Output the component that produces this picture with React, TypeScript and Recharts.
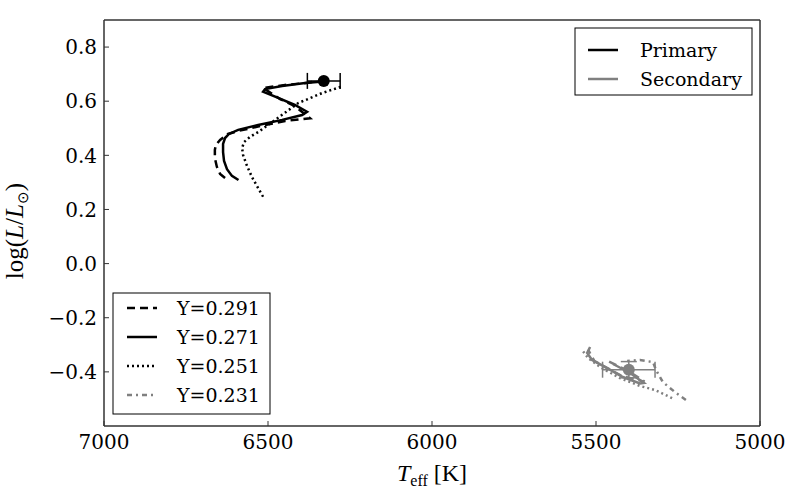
import React from "react";
import { ScatterChart, Scatter, XAxis, YAxis, ErrorBar } from "recharts";

// axis ticks
const xTicks = [7000, 6500, 6000, 5500, 5000];
const yTicks = [-0.4, -0.2, 0.0, 0.2, 0.4, 0.6, 0.8];

// primary star tracks (Teff, log L)
const priY291 = [
  { T: 6631, L: 0.316 }, { T: 6646, L: 0.331 }, { T: 6656, L: 0.358 }, { T: 6662, L: 0.39 },
  { T: 6662, L: 0.42 }, { T: 6659, L: 0.438 }, { T: 6646, L: 0.457 }, { T: 6622, L: 0.479 },
  { T: 6591, L: 0.49 }, { T: 6524, L: 0.508 }, { T: 6448, L: 0.527 }, { T: 6372, L: 0.537 },
  { T: 6418, L: 0.582 }, { T: 6463, L: 0.608 }, { T: 6515, L: 0.649 }, { T: 6448, L: 0.66 },
  { T: 6378, L: 0.668 }, { T: 6354, L: 0.673 },
];
const priY271 = [
  { T: 6590, L: 0.309 }, { T: 6610, L: 0.324 }, { T: 6625, L: 0.349 }, { T: 6634, L: 0.379 },
  { T: 6637, L: 0.412 }, { T: 6637, L: 0.442 }, { T: 6631, L: 0.464 }, { T: 6619, L: 0.479 },
  { T: 6591, L: 0.494 }, { T: 6530, L: 0.512 }, { T: 6457, L: 0.531 }, { T: 6396, L: 0.549 },
  { T: 6381, L: 0.561 }, { T: 6418, L: 0.586 }, { T: 6469, L: 0.612 }, { T: 6515, L: 0.635 },
  { T: 6509, L: 0.645 }, { T: 6457, L: 0.656 }, { T: 6387, L: 0.667 }, { T: 6341, L: 0.672 },
];
const priY251 = [
  { T: 6515, L: 0.247 }, { T: 6530, L: 0.279 }, { T: 6549, L: 0.32 }, { T: 6564, L: 0.361 },
  { T: 6576, L: 0.401 }, { T: 6579, L: 0.427 }, { T: 6573, L: 0.449 }, { T: 6555, L: 0.468 },
  { T: 6530, L: 0.486 }, { T: 6479, L: 0.53 }, { T: 6408, L: 0.593 }, { T: 6335, L: 0.63 },
  { T: 6271, L: 0.656 },
];

// secondary star tracks
const secY291 = [
  { T: 5460, L: -0.362 }, { T: 5400, L: -0.398 }, { T: 5352, L: -0.436 }, { T: 5420, L: -0.416 },
  { T: 5505, L: -0.36 }, { T: 5524, L: -0.318 },
];
const secY271 = [
  { T: 5448, L: -0.371 }, { T: 5396, L: -0.404 }, { T: 5354, L: -0.441 }, { T: 5366, L: -0.443 },
  { T: 5418, L: -0.419 }, { T: 5466, L: -0.386 }, { T: 5512, L: -0.356 }, { T: 5527, L: -0.33 },
  { T: 5518, L: -0.308 },
];
const secY251 = [
  { T: 5268, L: -0.497 }, { T: 5320, L: -0.467 }, { T: 5366, L: -0.452 }, { T: 5427, L: -0.423 },
  { T: 5488, L: -0.382 }, { T: 5524, L: -0.349 }, { T: 5540, L: -0.323 },
];
const secY231 = [
  { T: 5226, L: -0.504 }, { T: 5259, L: -0.475 }, { T: 5296, L: -0.438 }, { T: 5317, L: -0.393 },
  { T: 5326, L: -0.364 }, { T: 5366, L: -0.356 }, { T: 5405, L: -0.36 },
];

// observed components with errors
const primaryObs = [{ T: 6330, L: 0.675, eT: 50 }];
const secondaryObs = [{ T: 5400, L: -0.392, eT: 80, eL: 0.03 }];

const BLACK = "#000000";
const GRAY = "#808080";
const DASH = "8 5";
const DOT = "2 3";
const DASHDOT = "5 4 2 4";
const FONT = "'DejaVu Serif', serif";
const MATH = "'Liberation Serif', serif";

const noDot = () => <g />;

const fmt = (v: number) => v.toFixed(1).replace("-", "\u2212");

const BottomTick = (p: any) => (
  <g>
    <line x1={p.x} y1={p.y} x2={p.x} y2={p.y - 5} stroke="#333" strokeWidth={1} />
    <text x={p.x} y={p.y + 23} textAnchor="middle" fontFamily={FONT} fontSize={20} fill="#000">
      {p.payload.value}
    </text>
  </g>
);
const LeftTick = (p: any) => (
  <g>
    <line x1={p.x} y1={p.y} x2={p.x + 5} y2={p.y} stroke="#333" strokeWidth={1} />
    <text x={p.x - 7} y={p.y} dy="0.36em" textAnchor="end" fontFamily={FONT} fontSize={20} fill="#000">
      {fmt(p.payload.value)}
    </text>
  </g>
);
const TopTick = (p: any) => (
  <line x1={p.x} y1={p.y} x2={p.x} y2={p.y + 5} stroke="#333" strokeWidth={1} />
);
const RightTick = (p: any) => (
  <line x1={p.x} y1={p.y} x2={p.x - 5} y2={p.y} stroke="#333" strokeWidth={1} />
);

const axisLine = { stroke: "#333", strokeWidth: 1.5 };

export default function App() {
  const line = (color: string, dash?: string) => ({
    stroke: color,
    strokeWidth: 2.5,
    strokeDasharray: dash,
    fill: "none",
  });
  return (
    <div style={{ position: "absolute", left: 0, top: 0, width: 800, height: 500, background: "#fff" }}>
      <ScatterChart width={800} height={500} margin={{ top: 19, right: 39, bottom: 34, left: 14 }}>
        <XAxis
          dataKey="T"
          type="number"
          domain={[5000, 7000]}
          reversed
          ticks={xTicks}
          interval={0}
          tickSize={0}
          tickMargin={0}
          tickLine={false}
          axisLine={axisLine}
          tick={BottomTick}
          height={40}
        />
        <XAxis
          xAxisId="top"
          orientation="top"
          dataKey="T"
          type="number"
          domain={[5000, 7000]}
          reversed
          ticks={xTicks}
          interval={0}
          tickSize={0}
          tickMargin={0}
          tickLine={false}
          axisLine={axisLine}
          tick={TopTick}
          height={1}
        />
        <YAxis
          dataKey="L"
          type="number"
          domain={[-0.6, 0.9]}
          ticks={yTicks}
          interval={0}
          tickSize={0}
          tickMargin={0}
          tickLine={false}
          axisLine={axisLine}
          tick={LeftTick}
          width={90}
        />
        <YAxis
          yAxisId="right"
          orientation="right"
          dataKey="L"
          type="number"
          domain={[-0.6, 0.9]}
          ticks={yTicks}
          interval={0}
          tickSize={0}
          tickMargin={0}
          tickLine={false}
          axisLine={axisLine}
          tick={RightTick}
          width={1}
        />
        <Scatter data={priY251} line={line(BLACK, DOT)} shape={noDot} isAnimationActive={false} />
        <Scatter data={priY291} line={line(BLACK, DASH)} shape={noDot} isAnimationActive={false} />
        <Scatter data={priY271} line={line(BLACK)} shape={noDot} isAnimationActive={false} />
        <Scatter data={secY231} line={line(GRAY, DASHDOT)} shape={noDot} isAnimationActive={false} />
        <Scatter data={secY251} line={line(GRAY, DOT)} shape={noDot} isAnimationActive={false} />
        <Scatter data={secY291} line={line(GRAY, DASH)} shape={noDot} isAnimationActive={false} />
        <Scatter data={secY271} line={line(GRAY)} shape={noDot} isAnimationActive={false} />
        <Scatter data={primaryObs} fill={BLACK} isAnimationActive={false}
          shape={(p: any) => <circle cx={p.cx} cy={p.cy} r={6} fill={BLACK} />}>
          <ErrorBar dataKey="eT" direction="x" width={8} stroke={BLACK} strokeWidth={1.5} />
        </Scatter>
        <Scatter data={secondaryObs} fill={GRAY} isAnimationActive={false}
          shape={(p: any) => <circle cx={p.cx} cy={p.cy} r={6} fill={GRAY} />}>
          <ErrorBar dataKey="eT" direction="x" width={8} stroke={GRAY} strokeWidth={1.5} />
          <ErrorBar dataKey="eL" direction="y" width={8} stroke={GRAY} strokeWidth={1.5} />
        </Scatter>
      </ScatterChart>

      <svg width={800} height={500} style={{ position: "absolute", left: 0, top: 0, pointerEvents: "none" }}>
        {/* axis titles */}
        <text x={432} y={481} textAnchor="middle" fontFamily={MATH} fontSize={24}>
          <tspan fontStyle="italic">T</tspan>
          <tspan fontSize={16} dy={5}>eff</tspan>
          <tspan dy={-5}> [K]</tspan>
        </text>
        <text transform="translate(23,231) rotate(-90)" textAnchor="middle" fontFamily={MATH} fontSize={25}>
          log(<tspan fontStyle="italic">L</tspan>/<tspan fontStyle="italic">L</tspan>
          <tspan fontSize={15} dy={5}>⊙</tspan>
          <tspan dy={-5}>)</tspan>
        </text>

        {/* star legend */}
        <rect x={575} y={28} width={177} height={67} fill="#fff" stroke="#000" strokeWidth={1} />
        <line x1={588} y1={50} x2={618} y2={50} stroke={BLACK} strokeWidth={2.5} />
        <text x={640} y={50} dy="0.35em" fontFamily={FONT} fontSize={19}>Primary</text>
        <line x1={588} y1={79} x2={618} y2={79} stroke={GRAY} strokeWidth={2.5} />
        <text x={640} y={79} dy="0.35em" fontFamily={FONT} fontSize={19}>Secondary</text>

        {/* helium legend */}
        <rect x={113} y={293} width={157} height={121} fill="#fff" stroke="#000" strokeWidth={1} />
        <line x1={127} y1={308} x2={157} y2={308} stroke={BLACK} strokeWidth={2.5} strokeDasharray={DASH} />
        <text x={177} y={308} dy="0.35em" fontFamily={FONT} fontSize={19}>Y=0.291</text>
        <line x1={127} y1={337} x2={157} y2={337} stroke={BLACK} strokeWidth={2.5} />
        <text x={177} y={337} dy="0.35em" fontFamily={FONT} fontSize={19}>Y=0.271</text>
        <line x1={127} y1={366} x2={157} y2={366} stroke={BLACK} strokeWidth={2.5} strokeDasharray={DOT} />
        <text x={177} y={366} dy="0.35em" fontFamily={FONT} fontSize={19}>Y=0.251</text>
        <line x1={127} y1={395} x2={157} y2={395} stroke={GRAY} strokeWidth={2.5} strokeDasharray={DASHDOT} />
        <text x={177} y={395} dy="0.35em" fontFamily={FONT} fontSize={19}>Y=0.231</text>
      </svg>
    </div>
  );
}
